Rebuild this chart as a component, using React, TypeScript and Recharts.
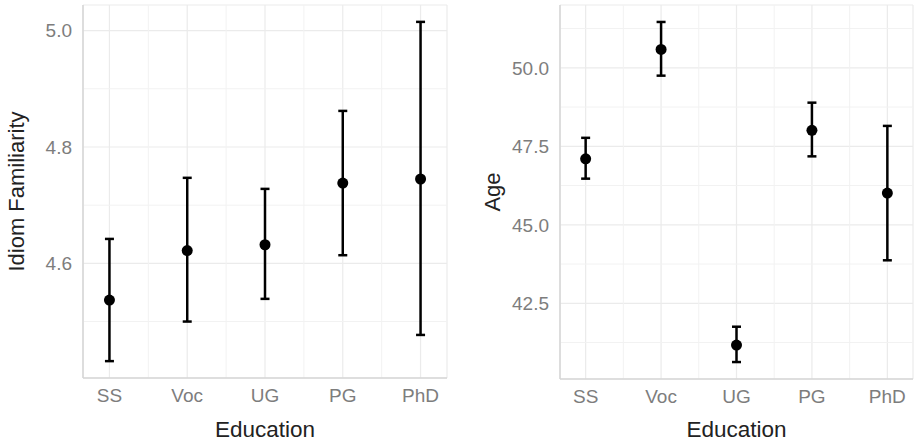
import React from 'react';
import { ScatterChart, Scatter, XAxis, YAxis, CartesianGrid, ErrorBar, ReferenceLine } from 'recharts';

const categories = ['SS', 'Voc', 'UG', 'PG', 'PhD'];

const familiarityMean = [4.537, 4.622, 4.632, 4.738, 4.745];
const familiarityLow = [4.432, 4.500, 4.539, 4.614, 4.477];
const familiarityHigh = [4.642, 4.747, 4.728, 4.862, 5.015];
const familiarityTicks = [4.6, 4.8, 5.0];
const familiarityMinor = [4.5, 4.7, 4.9];
const familiarityDomain = [4.403, 5.044];

const ageMean = [47.10, 50.585, 41.17, 48.01, 46.01];
const ageLow = [46.47, 49.75, 40.63, 47.18, 43.87];
const ageHigh = [47.77, 51.46, 41.755, 48.89, 48.15];
const ageTicks = [42.5, 45.0, 47.5, 50.0];
const ageMinor = [41.25, 43.75, 46.25, 48.75, 51.25];
const ageDomain = [40.09, 52.0];

const xTicks = [1, 2, 3, 4, 5];
const xMinor = [1.5, 2.5, 3.5, 4.5];
const xDomain = [0.66, 5.34];

const FONT = '"Liberation Sans", Arial, Helvetica, sans-serif';
const GRID = '#ebebeb';
const MINOR = '#f2f2f2';
const AXIS = '#d6d6d6';
const TICK = '#7d7d7d';
const TITLE = '#222222';

function build(mean: number[], low: number[], high: number[]) {
  return mean.map((m, i) => ({ x: i + 1, y: m, err: [m - low[i], high[i] - m] }));
}

function YTitle(props: any) {
  const { viewBox, text, cx } = props;
  const y = viewBox.y + viewBox.height / 2;
  return (
    <text x={cx} y={y} transform={`rotate(-90 ${cx} ${y})`} textAnchor="middle" dominantBaseline="central"
      fontSize={22} fill={TITLE} fontFamily={FONT}>{text}</text>
  );
}

function XTitle(props: any) {
  const { viewBox, text } = props;
  const x = viewBox.x + viewBox.width / 2;
  return (
    <text x={x} y={437} textAnchor="middle" fontSize={22.5} fill={TITLE} fontFamily={FONT}>{text}</text>
  );
}

const Dot = (p: any) => <circle cx={p.cx} cy={p.cy} r={5.5} fill="#000" />;

function Panel(props: any) {
  const { data, ticks, minor, domain, title, yWidth, right, xHeight, titleX } = props;
  return (
    <ScatterChart width={458} height={443} margin={{ top: 5, right, bottom: 0, left: 0 }}>
      <CartesianGrid stroke={GRID} strokeWidth={1.2} />
      {minor.map((v: number) => (
        <ReferenceLine key={'y' + v} y={v} stroke={MINOR} strokeWidth={1} />
      ))}
      {xMinor.map((v: number) => (
        <ReferenceLine key={'x' + v} x={v} stroke={MINOR} strokeWidth={1} />
      ))}
      <XAxis type="number" dataKey="x" domain={xDomain} ticks={xTicks} allowDataOverflow
        tickFormatter={(v: number) => categories[v - 1]} height={xHeight}
        axisLine={{ stroke: AXIS, strokeWidth: 1.5 }} tickLine={false} tickSize={0} tickMargin={11}
        tick={{ fill: TICK, fontSize: 19, fontFamily: FONT }}
        label={<XTitle text="Education" />} />
      <YAxis type="number" dataKey="y" domain={domain} ticks={ticks} allowDataOverflow width={yWidth}
        tickFormatter={(v: number) => v.toFixed(1)}
        axisLine={{ stroke: AXIS, strokeWidth: 1.5 }} tickLine={false} tickSize={0} tickMargin={11}
        tick={{ fill: TICK, fontSize: 19, fontFamily: FONT }}
        label={<YTitle text={title} cx={titleX} />} />
      <Scatter data={data} shape={Dot} isAnimationActive={false}>
        <ErrorBar dataKey="err" direction="y" width={4.5} stroke="#000" strokeWidth={2.5} isAnimationActive={false} />
      </Scatter>
    </ScatterChart>
  );
}

export default function App() {
  const fam = build(familiarityMean, familiarityLow, familiarityHigh);
  const age = build(ageMean, ageLow, ageHigh);
  return (
    <div style={{ position: 'absolute', left: 0, top: 0, width: 916, height: 443, background: '#fff' }}>
      <div style={{ position: 'absolute', left: 0, top: 0 }}>
        <Panel data={fam} ticks={familiarityTicks} minor={familiarityMinor} domain={familiarityDomain}
          title="Idiom Familiarity" yWidth={83} right={11} xHeight={65} titleX={16} />
      </div>
      <div style={{ position: 'absolute', left: 458, top: 0 }}>
        <Panel data={age} ticks={ageTicks} minor={ageMinor} domain={ageDomain}
          title="Age" yWidth={102} right={3} xHeight={64} titleX={34} />
      </div>
    </div>
  );
}
